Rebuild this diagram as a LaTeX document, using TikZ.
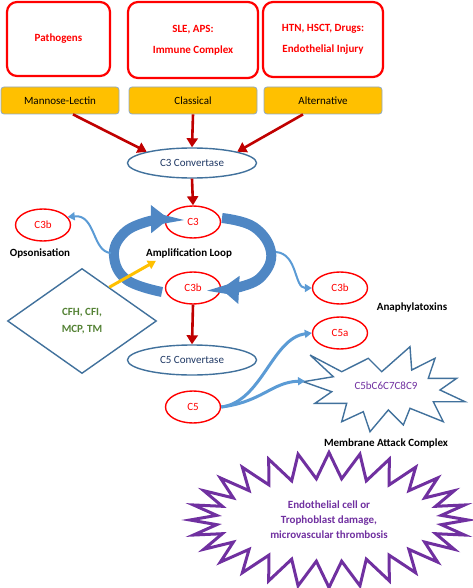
\documentclass[tikz,border=0pt]{standalone}
\usepackage{fontspec}
\setmainfont{Carlito}
\usetikzlibrary{shapes.geometric,shapes.symbols,arrows.meta}
\definecolor{gold}{HTML}{FFC000}
\definecolor{darkred}{HTML}{C00000}
\definecolor{convblue}{HTML}{41719C}
\definecolor{textblue}{HTML}{1F3864}
\definecolor{lightblue}{HTML}{5B9BD5}
\definecolor{loopblue}{HTML}{4F87C4}
\definecolor{boxedge}{HTML}{8EA9C8}
\definecolor{leafgreen}{HTML}{548235}
\definecolor{macpurple}{HTML}{7030A0}

\begin{document}
\begin{tikzpicture}[x=1pt,y=-1pt,font=\fontsize{11}{13}\selectfont,
  srcbox/.style={draw=red, line width=2.2pt, rounded corners=10pt, text=red, font=\fontsize{11}{13}\selectfont\bfseries, align=center, inner sep=0pt},
  pathbox/.style={draw=boxedge, fill=gold, rounded corners=3pt, line width=0.8pt, minimum height=27pt, inner sep=0pt},
  convert/.style={ellipse, draw=convblue, line width=1.4pt, text=textblue, minimum width=129pt, minimum height=30pt, inner sep=0pt},
  comp/.style={ellipse, draw=red, line width=1.4pt, text=red, minimum width=55pt, minimum height=32pt, inner sep=0pt},
  redarrow/.style={draw=darkred, line width=2.6pt, -{Triangle[width=11pt,length=9pt]}},
  bluearrow/.style={draw=lightblue, line width=2pt, -{Triangle[width=8pt,length=7pt]}},
  looparrow/.style={draw=loopblue, line width=10pt, -{Triangle[width=27pt,length=18pt]}},
  caption/.style={font=\fontsize{11}{13}\selectfont\bfseries, inner sep=0pt}]

\useasboundingbox (0,0) rectangle (472,588);

% sources and pathways
\node[srcbox, minimum width=103pt, minimum height=74pt] (path) at (58.5,39) {Pathogens};
\node[srcbox, minimum width=130pt, minimum height=76pt] (sle) at (193,40) {SLE, APS:\\[8pt]Immune Complex};
\node[srcbox, minimum width=120pt, minimum height=75pt] (htn) at (323,39.5) {HTN, HSCT, Drugs:\\[8pt]Endothelial Injury};

\node[pathbox, minimum width=118pt] (lectin) at (60,100.5) {Mannose-Lectin};
\node[pathbox, minimum width=128pt] (classic) at (193,100.5) {Classical};
\node[pathbox, minimum width=118pt] (altern) at (323,100.5) {Alternative};

\node[convert] (c3conv) at (192,163) {C3 Convertase};

\draw[redarrow] ([xshift=13pt]lectin.south) -- (c3conv.166);
\draw[redarrow] (classic.south) -- (c3conv.north);
\draw[redarrow] ([xshift=-20pt]altern.south) -- (c3conv.14);

% amplification loop
\node[comp] (c3) at (193,222) {C3};
\node[comp] (c3bm) at (193,288) {C3b};
\node[comp] (c3bl) at (43,225) {C3b};
\node[comp] (c3br) at (340,288) {C3b};

\draw[redarrow] (c3conv.south) -- (c3.north);

\draw[looparrow] plot[smooth, tension=.7] coordinates {(162,292) (127,280) (114,256) (123,234) (146,222) (169,219)};
\draw[looparrow] plot[smooth, tension=.7] coordinates {(222,218) (254,227) (271,252) (262,276) (240,287) (221,289)};

\node[coordinate] (lw) at (111,253) {};
\node[coordinate] (rw) at (276,252) {};
\draw[bluearrow] (lw) .. controls (92,252) and (96,214) .. (c3bl.18);
\draw[bluearrow] (rw) .. controls (298,254) and (294,288) .. (c3br.west);

\node[caption] (ops) at (40,253) {Opsonisation};
\node[caption] (amp) at (189,253) {Amplification Loop};
\node[caption] (ana) at (412,308) {Anaphylatoxins};

% regulators
\node[diamond, draw=convblue, line width=1.4pt, minimum width=149pt, minimum height=105pt, inner sep=0pt, text=leafgreen, font=\fontsize{11}{13}\selectfont\bfseries, align=center] (reg) at (82,321) {CFH, CFI,\\[4pt]MCP, TM};
\draw[draw=gold, line width=3pt, -{Triangle[width=9pt,length=8pt]}] (reg.51) -- ([xshift=10pt,yshift=-3pt]amp.south west);

% terminal pathway
\node[convert] (c5conv) at (192,360) {C5 Convertase};
\draw[redarrow] (c3bm.south) -- (c5conv.north);

\node[comp] (c5a) at (340,333) {C5a};
\node[comp] (c5) at (193,407) {C5};

\draw[draw=convblue, line width=1.4pt, line join=miter, fill=white] plot coordinates {(310,355) (341.7,371.7) (368.3,358.3) (381.7,371.7) (410,346.7) (411.7,370) (435,358.3) (428.3,378.3) (456.7,378.3) (440,390) (465,401.7) (433.3,401.7) (443.3,421.7) (410,408.3) (403.3,425) (388.3,410) (370,431.7) (363.3,411.7) (341.7,421.7) (346.7,403.3) (315,403.3) (331.7,391.7) (303.3,381.7) (333.3,376.7) (310,355)};
\node[text=macpurple, inner sep=0pt] (mac) at (386,386) {C5bC6C7C8C9};
\node[coordinate] (macin) at (305,381) {};

\draw[bluearrow, line width=3pt] (c5.east) .. controls (262,402) and (272,338) .. (c5a.west);
\draw[bluearrow, line width=3pt] (c5.east) .. controls (262,402) and (272,382) .. (macin);

\node[caption] (memb) at (386,444) {Membrane Attack Complex};

\node[starburst, starburst points=28, starburst point height=26pt, random starburst=0, draw=macpurple, line width=3pt, text=macpurple, minimum width=278pt, minimum height=135pt, inner sep=0pt, font=\fontsize{11}{13}\selectfont\bfseries, align=center] (damage) at (329,520) {Endothelial cell or\\[2pt]Trophoblast damage,\\[2pt]microvascular thrombosis};

\end{tikzpicture}
\end{document}
